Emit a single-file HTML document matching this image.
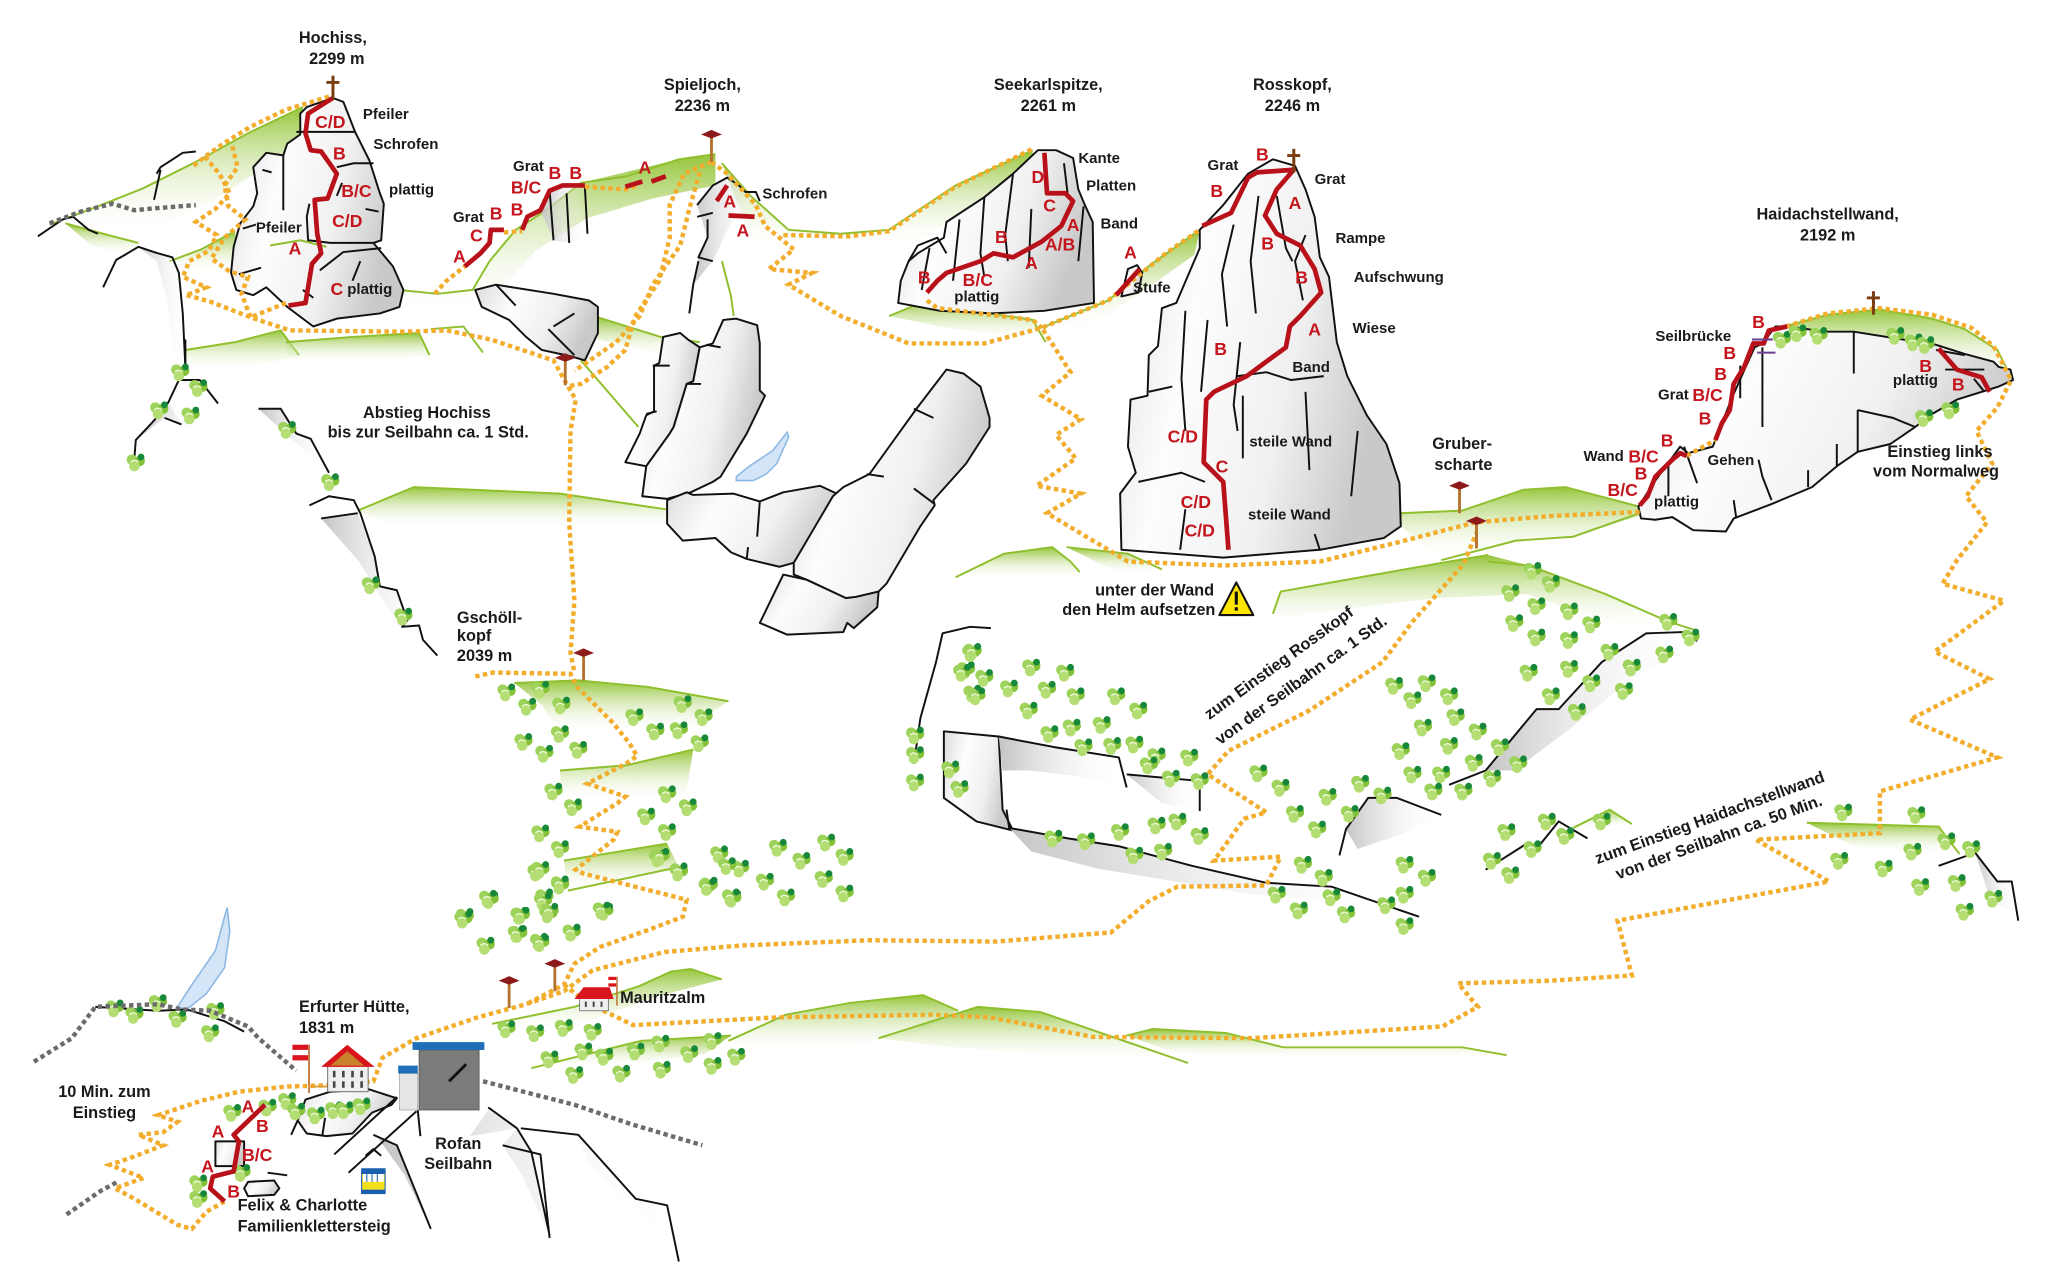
<!DOCTYPE html>
<html><head><meta charset="utf-8">
<style>
html,body{margin:0;padding:0;background:#fff;}
svg{display:block;}
text{font-family:"Liberation Sans Narrow","Liberation Sans",Arial,sans-serif;font-weight:bold;}
.n{font-size:12.5px;fill:#1a1a1a;}
.s{font-size:11.5px;fill:#1a1a1a;}
.r{font-size:13.5px;fill:#c4161c;}
.rk{fill:url(#rk);stroke:#111;stroke-width:1.5;stroke-linejoin:round;}
.ln{fill:none;stroke:#111;stroke-width:1.5;stroke-linejoin:round;}
.sh{fill:url(#sh);stroke:none;}
.md{fill:url(#md);stroke:none;}
.me{fill:none;stroke:#8fbf2c;stroke-width:1.5;}
.op{fill:none;stroke:#f2ad2c;stroke-width:3.4;stroke-dasharray:3.4 2.6;}
.gp{fill:none;stroke:#6b6b6b;stroke-width:3.4;stroke-dasharray:3.4 2.6;}
.rt{fill:none;stroke:#b8111a;stroke-width:3.6;stroke-linejoin:round;}
</style></head><body>
<svg width="2047" height="1285" viewBox="0 0 1568 984" preserveAspectRatio="none" xmlns="http://www.w3.org/2000/svg">
<defs>
<linearGradient id="rk" x1="0" y1="0" x2="1" y2="0.3">
<stop offset="0" stop-color="#dcdcdc"/><stop offset="0.35" stop-color="#fdfdfd"/><stop offset="0.7" stop-color="#f0f0f0"/><stop offset="1" stop-color="#c9c9c9"/>
</linearGradient>
<linearGradient id="sh" x1="0" y1="0" x2="1" y2="0">
<stop offset="0" stop-color="#c4c4c4"/><stop offset="1" stop-color="#ffffff" stop-opacity="0"/>
</linearGradient>
<linearGradient id="md" x1="0" y1="0" x2="0" y2="1">
<stop offset="0" stop-color="#95c53a"/><stop offset="1" stop-color="#ffffff" stop-opacity="0"/>
</linearGradient>
<g id="t"><circle cx="-3" cy="-2" r="4" fill="#9dd35a"/><circle cx="3" cy="-1" r="4" fill="#84c23a"/><circle cx="-1" cy="3" r="4" fill="#b4de74"/><circle cx="4" cy="-4" r="2.6" fill="#17883a"/><path d="M-4,0 q3,-3 6,0" stroke="#eef8dc" stroke-width="1" fill="none"/></g>
<g id="sp"><rect x="-1.1" y="0" width="2.2" height="22" fill="#b5722e"/><path d="M-8,1 L0,-2.5 L8,1 L0,4 Z" fill="#8c1a1a"/></g>
<g id="cr"><rect x="-1.1" y="0" width="2.3" height="18" fill="#7a3d12"/><rect x="-5" y="4" width="10" height="2.2" fill="#7a3d12"/></g>
</defs>

<!-- ===== MEADOWS ===== -->
<path class="md" d="M38,172 L75,158 L110,144 L150,124 L190,102 L232,82 L236,112 L200,130 L165,152 L135,168 L100,178 L60,180 Z"/>
<path class="me" d="M38,172 L75,158 L110,144 L150,124 L190,102 L232,82"/>
<path class="md" d="M50,171 L79,179 L106,186 L104,196 L70,188 Z"/><path class="me" d="M50,171 L79,179 L106,186"/>
<path class="md" d="M130,200 L154,191 L180,177 L182,206 L150,209 Z"/><path class="me" d="M130,200 L154,191 L180,177"/>
<path class="md" d="M142,268 L180,262 L215,253 L229,272 L190,282 L142,284 Z"/><path class="me" d="M142,268 L180,262 L215,253 L229,272"/>
<path class="md" d="M219,262 L270,258 L321,255 L329,272 L280,278 L222,277 Z"/><path class="me" d="M219,262 L270,258 L321,255 L329,272"/>
<path class="me" d="M330,252 L355,250 L370,270"/>
<path class="md" d="M305,222 L335,225 L362,222 L375,200 L395,176 L445,140 L520,122 L548,118 L548,142 L500,152 L450,167 L410,192 L380,226 L360,242 L320,240 Z"/>
<path class="me" d="M305,222 L335,225 L362,222 L375,200 L395,176 L420,160 L445,140 L480,135 L520,122 L548,118"/>
<path class="md" d="M458,243 L506,258 L536,262 L536,274 L500,270 L458,260 Z"/><path class="me" d="M458,243 L506,258 L536,262"/>
<path class="me" d="M445,276 L489,327"/>
<path class="md" d="M553,125 L575,150 L604,176 L644,179 L681,176 L732,142 L791,115 L791,132 L740,162 L700,186 L640,193 L600,191 L575,182 Z"/>
<path class="me" d="M553,125 L575,150 L604,176 L644,179 L681,176 L732,142 L791,115"/>
<path class="me" d="M553,200 L560,227 L562,242"/>
<path class="md" d="M681,242 L710,230 L732,236 L791,245 L801,262 L770,257 L720,250 Z"/><path class="me" d="M681,242 L710,230 L732,236 L791,245 L801,262"/>
<path class="md" d="M798,251 L849,230 L881,203 L919,176 L915,195 L880,220 L850,240 L812,256 Z"/><path class="me" d="M798,251 L849,230 L881,203 L919,176"/>
<path class="md" d="M996,244 L1015,225 L1022,262 L1000,262 Z"/>
<path class="md" d="M274,391 L317,373 L429,378 L510,390 L510,404 L300,404 Z"/><path class="me" d="M274,391 L317,373 L429,378 L510,390"/>
<path class="md" d="M732,442 L769,424 L806,419 L820,430 L827,440 L780,444 Z"/><path class="me" d="M732,442 L769,424 L806,419 L820,430 L827,438"/>
<path class="md" d="M817,419 L864,424 L890,436 L860,440 Z"/><path class="me" d="M817,419 L864,424 L890,436"/>
<path class="md" d="M975,470 L981,453 L1048,441 L1110,430 L1140,425 L1171,433 L1230,455 L1278,476 L1300,483 L1250,482 L1170,455 L1100,458 L1040,465 L990,472 Z"/>
<path class="me" d="M975,470 L981,453 L1048,441 L1110,430 L1140,425"/><path class="me" d="M1140,430 L1171,433 L1230,455 L1278,476 L1300,483"/>
<path class="md" d="M1072,393 L1120,391 L1167,375 L1199,373 L1237,383 L1256,388 L1256,395 L1205,411 L1161,414 L1104,429 L1072,402 Z"/>
<path class="me" d="M1072,393 L1120,391 L1167,375 L1199,373 L1237,383 L1256,388"/><path class="me" d="M1104,429 L1161,414 L1205,411 L1256,393"/>
<path class="md" d="M1360,252 L1400,241 L1440,237 L1480,244 L1505,252 L1530,268 L1541,290 L1525,282 L1500,270 L1480,264 L1420,256 L1360,258 Z"/>
<path class="me" d="M1360,252 L1400,241 L1440,237 L1480,244 L1505,252 L1530,268 L1541,290"/>
<path class="md" d="M1384,630 L1485,633 L1501,654 L1470,652 L1420,648 Z"/><path class="me" d="M1384,630 L1485,633 L1501,654"/>
<path class="md" d="M1205,634 L1233,620 L1250,631 Z"/><path class="me" d="M1205,634 L1233,620 L1250,631"/>
<path class="md" d="M394,523 L443,521 L496,526 L558,537 L546,545 L540,562 L490,562 L430,562 L415,540 Z"/><path class="me" d="M394,523 L443,521 L496,526 L558,537"/>
<path class="md" d="M429,590 L480,586 L531,574 L525,612 L490,614 L430,612 Z"/><path class="me" d="M429,590 L480,586 L531,574"/>
<path class="md" d="M432,659 L511,646 L520,664 L435,682 Z"/><path class="me" d="M432,659 L511,646"/><path class="me" d="M435,682 L520,664"/>
<!-- bottom strips -->
<path class="md" d="M558,797 L602,777 L651,768 L707,762 L734,774 L700,792 L640,802 L590,806 Z"/><path class="me" d="M558,797 L602,777 L651,768 L707,762 L734,774"/>
<path class="md" d="M673,795 L749,771 L797,775 L910,814 L860,813 L790,807 L720,801 Z"/><path class="me" d="M673,795 L749,771 L797,775 L910,814"/>
<path class="md" d="M863,793 L883,788 L939,791 L983,802 L1120,802 L1154,808 L1100,811 L980,811 L900,806 Z"/><path class="me" d="M863,793 L883,788 L939,791 L983,802 L1120,802 L1154,808"/>
<path class="md" d="M377,784 L440,771 L490,755 L514,744 L529,742 L553,750 L500,764 L450,782 L400,792 Z"/><path class="me" d="M377,784 L440,771 L490,755 L514,744 L529,742 L553,750"/>
<path class="md" d="M407,818 L491,797 L560,793 L540,807 L460,817 Z"/><path class="me" d="M407,818 L491,797 L560,793"/>

<!-- ===== LAKES ===== -->
<path d="M564,365 L574,357 L592,345 L603,331 L604,335 L595,355 L587,363 L577,368 L564,368 Z" fill="#d3e5f7" stroke="#8cb8e4" stroke-width="1.2"/>
<path d="M136,771 L147,754 L165,728 L172,702 L174,695 L176,713 L172,741 L158,761 L143,773 Z" fill="#d3e5f7" stroke="#8cb8e4" stroke-width="1.2"/>

<!-- ===== ROCKS ===== -->
<!-- Hochiss -->
<path class="rk" d="M230,87 L235,82 L255,75 L263,78 L272,101 L283,123 L291,148 L294,156 L292,184 L286,186 L301,204 L309,222 L306,235 L291,240 L258,244 L240,250 L220,235 L204,220 L194,226 L181,222 L177,209 L179,189 L184,171 L194,158 L197,148 L194,128 L204,117 L217,119 L220,110 L230,103 Z"/>
<path class="ln" d="M227,101 L272,101 M258,128 L271,125 L286,125 M237,156 L235,166 L236,184 L253,186 L286,186 M245,207 L263,193 L292,190 M217,119 L217,161 M201,130 L208,132 M186,175 L196,172 M183,210 L200,205 M232,222 L240,228 M262,140 L258,150 M276,200 L270,215 M280,160 L290,162"/>
<path class="me" d="M207,188 L230,184 L250,189"/>
<path class="ln" d="M120,133 L123,128 L140,117 L150,116 M123,130 L118,153 M29,181 L48,168 L56,166 L68,176 L75,179"/>
<path class="sh" d="M106,189 L121,194 L132,197 L137,209 L140,240 L142,281 L133,270 L128,230 L120,200 Z"/>
<path class="ln" d="M79,220 L89,199 L96,195 L106,189 L118,193 L121,194 L132,197 L137,209 L140,240 L142,281"/>
<path class="sh" d="M137,291 L153,291 L167,309 L150,300 Z M129,308 L118,322 L104,337 L126,320 L139,325 Z"/>
<path class="ln" d="M142,260 L142,280 M137,291 L153,291 L167,309 M137,291 L129,308 L118,322 L104,337 L103,350 M126,320 L139,325"/>
<path class="sh" d="M198,313 L215,313 L227,332 L238,336 L252,362 L240,350 L222,335 Z"/>
<path class="ln" d="M198,313 L215,313 L227,332 L238,336 L252,362"/>
<path class="sh" d="M246,397 L274,393 L287,426 L291,449 L304,452 L312,475 L321,479 L324,490 L335,502 L300,470 L275,430 Z"/>
<path class="ln" d="M237,387 L252,380 L271,383 L276,393 L287,426 L291,449 L304,452 L312,475 L308,480 L321,479 L324,490 L335,502 M246,397 L274,393"/>
<!-- lower rock below Spieljoch -->
<path class="rk" d="M364,222 L380,218 L424,225 L451,230 L458,235 L458,255 L448,276 L438,273 L415,268 L403,258 L390,245 L369,235 Z"/>
<path class="ln" d="M380,218 L395,234 M420,252 L440,272 M424,250 L440,240"/>
<!-- Spieljoch ridge pillars -->
<path class="sh" d="M414,161 L421,146 L431,142 L448,142 L450,179 L436,186 L424,184 Z"/>
<path class="ln" d="M421,146 L424,184 M434,148 L436,186 M448,143 L450,179 M400,176 L404,166 L414,161"/>
<!-- Spieljoch rock -->
<path class="sh" d="M534,157 L546,142 L557,136 L566,142 L571,147 L579,147 L582,154 L560,170 L546,200 L531,218 L535,197 L542,182 Z"/>
<path class="ln" d="M534,157 L546,142 L557,136 L566,142 L571,147 L579,147 L582,154 M534,166 L546,163 M542,168 L542,182 L535,197 L546,200 M535,200 L531,218 L528,240"/>
<!-- central cluster -->
<path class="rk" d="M479,354 L490,332 L495,318 L501,315 L501,280 L505,278 L508,258 L521,255 L527,260 L536,266 L531,292 L526,294 L516,327 L513,332 L495,357 Z"/>
<path class="rk" d="M536,266 L546,263 L554,245 L564,244 L580,249 L582,263 L582,299 L586,303 L572,332 L552,365 L546,369 L529,377 L511,382 L492,380 L495,357 L513,332 L516,327 L526,294 L531,292 Z"/>
<path class="rk" d="M511,383 L526,377 L531,379 L562,378 L582,384 L600,377 L628,372 L641,378 L608,431 L597,434 L572,428 L560,423 L548,412 L523,414 L511,401 Z"/>
<path class="ln" d="M582,384 L580,411 M573,419 L572,428 M500,280 L513,280 M495,317 L503,315 M541,264 L552,266 M526,294 L537,294"/>
<path class="rk" d="M725,283 L738,286 L751,296 L758,320 L758,327 L740,355 L715,383 L716,387 L705,403 L679,447 L673,453 L656,457 L648,458 L618,444 L608,440 L608,431 L638,380 L646,373 L666,363 L702,313 Z"/>
<path class="ln" d="M700,313 L715,320 M664,363 L677,365 M700,374 L716,386"/>
<path class="rk" d="M600,440 L618,444 L648,458 L656,457 L673,453 L672,465 L654,481 L649,477 L646,484 L603,486 L582,477 Z"/>
<!-- Seekarlspitze -->
<path class="rk" d="M795,115 L809,115 L822,121 L826,145 L831,157 L837,170 L838,232 L800,238 L760,240 L720,238 L688,232 L690,215 L696,200 L703,194 L718,185 L723,182 L725,170 L754,151 L776,133 Z"/>
<path class="ln" d="M754,151 L751,194 L754,212 M776,133 L770,180 L772,200 M815,125 L818,150 M735,168 L730,215 M712,190 L706,222 M696,200 L703,188 L718,182 L725,194 M790,160 L788,205 M830,158 L826,200"/>
<path class="rk" d="M859,227 L864,206 L871,203 L875,209 L872,224 Z"/>
<!-- Rosskopf -->
<path class="rk" d="M956,133 L975,122 L992,127 L1000,145 L1007,166 L1011,197 L1018,212 L1024,262 L1032,288 L1047,318 L1062,340 L1072,370 L1073,403 L1060,412 L1011,421 L937,427 L859,421 L858,378 L870,362 L864,342 L866,306 L879,303 L880,272 L887,265 L890,236 L901,232 L919,190 L919,176 L937,157 Z"/>
<path class="ln" d="M964,150 L958,200 L962,240 M945,172 L936,210 L940,250 M978,150 L985,190 L990,200 M1000,180 L992,200 L998,230 M908,238 L905,290 L908,330 M925,245 L920,300 M950,262 L945,310 L948,330 M948,288 L970,285 L989,291 L1014,288 M952,303 L952,351 M872,369 L905,362 L923,369 M904,421 L908,390 M1011,421 L1007,409 M1000,300 L1003,360 M1040,330 L1035,380 M880,300 L898,296"/>
<!-- Haidachstellwand -->
<path class="rk" d="M1255,388 L1257,397 L1268,398 L1281,396 L1297,406 L1322,407 L1328,397 L1357,386 L1388,373 L1407,357 L1423,346 L1448,340 L1467,327 L1480,317 L1499,306 L1515,301 L1531,296 L1542,291 L1540,283 L1531,281 L1527,277 L1505,271 L1483,264 L1420,254 L1398,254 L1370,250 L1360,250 L1350,263 L1344,266 L1335,286 L1327,304 L1319,324 L1312,342 L1293,347 L1287,342 L1268,368 Z"/>
<path class="ln" d="M1420,254 L1420,286 M1350,266 L1350,327 M1333,280 L1333,305 M1423,314 L1423,346 M1423,314 L1450,320 L1467,327 M1407,340 L1407,357 M1385,360 L1385,373 M1347,352 L1350,365 L1357,383 M1328,383 L1330,397 M1278,355 L1278,380 M1290,342 L1300,370 M1483,268 L1505,272 M1490,283 L1520,283 M1512,290 L1520,300"/>
<!-- right middle rocks -->
<path class="ln" d="M700,585 L705,550 L717,507 L722,485 L743,480 L759,481"/>
<path class="rk" d="M723,560 L765,564 L768,620 L776,636 L748,629 L723,611 Z"/>
<path class="sh" d="M765,564 L807,572 L857,580 L863,603 L830,595 L790,590 L768,590 Z"/>
<path class="ln" d="M765,564 L807,572 L857,580 L863,603"/>
<path class="sh" d="M863,593 L919,598 L919,621 L890,615 Z"/>
<path class="ln" d="M863,593 L919,598 L919,621"/>
<path class="sh" d="M773,634 L818,642 L857,648 L913,663 L970,676 L1020,679 L1087,702 L1020,690 L960,685 L900,675 L840,665 L790,652 Z"/>
<path class="ln" d="M771,620 L773,634 L818,642 L857,648 L913,663 L970,676 L1020,679 L1087,702"/>
<path class="sh" d="M1031,635 L1048,611 L1070,611 L1104,624 L1070,640 L1040,650 Z"/>
<path class="ln" d="M1026,655 L1031,635 L1048,611 L1070,611 L1104,624"/>
<path class="sh" d="M1138,590 L1177,543 L1194,543 L1227,507 L1261,485 L1289,484 L1300,491 L1250,520 L1200,560 L1160,590 Z"/>
<path class="ln" d="M1110,601 L1138,590 L1177,543 L1194,543 L1227,507 L1261,485 L1289,484 L1300,491"/>
<path class="ln" d="M1138,666 L1171,645 L1177,650 L1194,629 L1216,642"/>
<path class="sh" d="M1513,653 L1530,675 L1541,675 L1546,700 L1525,690 Z"/>
<path class="ln" d="M1485,663 L1513,653 L1530,675 L1541,675 L1546,705"/>
<!-- lower-left ridge -->
<path class="ln" d="M73,771 L121,774 L143,773 L172,782 L187,790"/>
<!-- Hut base and Felix rocks -->
<path class="rk" d="M234,842 L253,836 L282,834 L304,841 L300,846 L285,852 L270,868 L250,870 L235,868 L228,858 Z"/>
<path class="ln" d="M249,856 L247,869 M228,858 L223,869"/>
<path class="rk" d="M165,874 L187,874 L187,893 L165,893 Z"/>
<path class="rk" d="M190,905 L210,904 L214,910 L210,915 L190,916 L187,910 Z"/>
<path class="ln" d="M205,898 L220,900"/>
<!-- Station rocks -->
<path class="sh" d="M304,877 L330,941 L310,900 L290,872 Z M396,864 L407,882 L421,946 L400,900 L385,877 Z M443,869 L487,918 L511,923 L520,966 L490,930 L450,890 Z M374,850 L396,864 L360,870 Z"/>
<path class="ln" d="M304,840 L256,884 M319,851 L267,898 M286,869 L304,877 L330,941 M374,848 L396,864 L407,882 L421,946 M399,864 L443,869 L487,918 L511,923 L520,966 M385,877 L414,884 L421,948 M320,850 L322,870"/>
<path class="ln" d="M280,885 L286,880 L292,885"/>

<!-- ===== TREES ===== -->
<g>
<use href="#t" x="138" y="285"/><use href="#t" x="152" y="297"/><use href="#t" x="122" y="314"/><use href="#t" x="146" y="318"/><use href="#t" x="104" y="354"/><use href="#t" x="220" y="329"/><use href="#t" x="253" y="369"/><use href="#t" x="284" y="448"/><use href="#t" x="309" y="472"/>
<use href="#t" x="388" y="530"/><use href="#t" x="414" y="528"/><use href="#t" x="404" y="541"/><use href="#t" x="430" y="540"/><use href="#t" x="401" y="568"/><use href="#t" x="429" y="562"/><use href="#t" x="443" y="574"/><use href="#t" x="417" y="577"/><use href="#t" x="486" y="549"/><use href="#t" x="502" y="560"/><use href="#t" x="520" y="559"/><use href="#t" x="539" y="549"/><use href="#t" x="523" y="539"/><use href="#t" x="536" y="569"/><use href="#t" x="424" y="606"/><use href="#t" x="439" y="618"/><use href="#t" x="511" y="608"/><use href="#t" x="527" y="618"/><use href="#t" x="495" y="625"/><use href="#t" x="511" y="637"/><use href="#t" x="414" y="638"/><use href="#t" x="429" y="650"/><use href="#t" x="411" y="668"/><use href="#t" x="429" y="678"/><use href="#t" x="417" y="687"/><use href="#t" x="504" y="657"/><use href="#t" x="520" y="668"/><use href="#t" x="375" y="689"/><use href="#t" x="356" y="702"/><use href="#t" x="398" y="701"/><use href="#t" x="420" y="700"/><use href="#t" x="463" y="698"/><use href="#t" x="397" y="715"/><use href="#t" x="438" y="714"/><use href="#t" x="372" y="724"/><use href="#t" x="413" y="721"/><use href="#t" x="551" y="654"/><use href="#t" x="567" y="665"/><use href="#t" x="543" y="678"/><use href="#t" x="561" y="688"/><use href="#t" x="596" y="649"/><use href="#t" x="614" y="659"/><use href="#t" x="633" y="645"/><use href="#t" x="647" y="656"/><use href="#t" x="586" y="675"/><use href="#t" x="602" y="687"/><use href="#t" x="631" y="673"/><use href="#t" x="647" y="684"/><use href="#t" x="701" y="563"/><use href="#t" x="701" y="578"/><use href="#t" x="701" y="599"/><use href="#t" x="728" y="589"/><use href="#t" x="735" y="604"/><use href="#t" x="740" y="513"/><use href="#t" x="744" y="500"/><use href="#t" x="745" y="531"/>
<use href="#t" x="745" y="499"/><use href="#t" x="737" y="515"/><use href="#t" x="754" y="519"/><use href="#t" x="748" y="533"/><use href="#t" x="790" y="511"/><use href="#t" x="816" y="515"/><use href="#t" x="773" y="527"/><use href="#t" x="802" y="528"/><use href="#t" x="824" y="533"/><use href="#t" x="855" y="533"/><use href="#t" x="788" y="544"/><use href="#t" x="872" y="544"/><use href="#t" x="804" y="562"/><use href="#t" x="821" y="557"/><use href="#t" x="844" y="555"/><use href="#t" x="830" y="572"/><use href="#t" x="852" y="571"/><use href="#t" x="869" y="570"/><use href="#t" x="886" y="579"/><use href="#t" x="880" y="586"/><use href="#t" x="911" y="580"/><use href="#t" x="897" y="596"/><use href="#t" x="919" y="598"/><use href="#t" x="964" y="592"/><use href="#t" x="981" y="603"/><use href="#t" x="1017" y="610"/><use href="#t" x="1042" y="600"/><use href="#t" x="1059" y="609"/><use href="#t" x="1034" y="623"/><use href="#t" x="992" y="623"/><use href="#t" x="1009" y="635"/><use href="#t" x="886" y="632"/><use href="#t" x="902" y="629"/><use href="#t" x="919" y="640"/><use href="#t" x="858" y="637"/><use href="#t" x="869" y="655"/><use href="#t" x="891" y="652"/><use href="#t" x="807" y="642"/><use href="#t" x="832" y="644"/><use href="#t" x="998" y="662"/><use href="#t" x="1014" y="672"/><use href="#t" x="978" y="685"/><use href="#t" x="995" y="697"/><use href="#t" x="1020" y="687"/><use href="#t" x="1031" y="700"/><use href="#t" x="1062" y="693"/><use href="#t" x="1076" y="685"/><use href="#t" x="1076" y="662"/><use href="#t" x="1093" y="672"/><use href="#t" x="1076" y="709"/>
<use href="#t" x="1068" y="525"/><use href="#t" x="1093" y="523"/><use href="#t" x="1082" y="536"/><use href="#t" x="1110" y="533"/><use href="#t" x="1090" y="557"/><use href="#t" x="1115" y="549"/><use href="#t" x="1073" y="575"/><use href="#t" x="1110" y="571"/><use href="#t" x="1132" y="560"/><use href="#t" x="1149" y="572"/><use href="#t" x="1082" y="593"/><use href="#t" x="1104" y="593"/><use href="#t" x="1129" y="584"/><use href="#t" x="1143" y="596"/><use href="#t" x="1163" y="585"/><use href="#t" x="1098" y="606"/><use href="#t" x="1121" y="606"/>
<use href="#t" x="1174" y="437"/><use href="#t" x="1188" y="447"/><use href="#t" x="1157" y="454"/><use href="#t" x="1177" y="464"/><use href="#t" x="1202" y="468"/><use href="#t" x="1160" y="477"/><use href="#t" x="1177" y="488"/><use href="#t" x="1202" y="490"/><use href="#t" x="1219" y="478"/><use href="#t" x="1171" y="515"/><use href="#t" x="1202" y="512"/><use href="#t" x="1233" y="499"/><use href="#t" x="1250" y="511"/><use href="#t" x="1275" y="501"/><use href="#t" x="1244" y="529"/><use href="#t" x="1219" y="523"/><use href="#t" x="1188" y="533"/><use href="#t" x="1208" y="545"/><use href="#t" x="1278" y="476"/><use href="#t" x="1295" y="488"/>
<use href="#t" x="1154" y="637"/><use href="#t" x="1185" y="629"/><use href="#t" x="1174" y="650"/><use href="#t" x="1199" y="640"/><use href="#t" x="1227" y="629"/><use href="#t" x="1143" y="659"/><use href="#t" x="1157" y="670"/><use href="#t" x="1412" y="622"/><use href="#t" x="1468" y="624"/><use href="#t" x="1409" y="659"/><use href="#t" x="1443" y="665"/><use href="#t" x="1465" y="652"/><use href="#t" x="1491" y="644"/><use href="#t" x="1510" y="650"/><use href="#t" x="1471" y="679"/><use href="#t" x="1499" y="676"/><use href="#t" x="1527" y="688"/><use href="#t" x="1505" y="698"/>
<use href="#t" x="1365" y="260"/><use href="#t" x="1377" y="255"/><use href="#t" x="1393" y="257"/><use href="#t" x="1452" y="257"/><use href="#t" x="1466" y="262"/><use href="#t" x="1475" y="264"/><use href="#t" x="1474" y="320"/><use href="#t" x="1494" y="314"/>
<use href="#t" x="88" y="772"/><use href="#t" x="103" y="777"/><use href="#t" x="121" y="768"/><use href="#t" x="136" y="780"/><use href="#t" x="165" y="774"/><use href="#t" x="161" y="791"/><use href="#t" x="152" y="906"/><use href="#t" x="152" y="918"/><use href="#t" x="185" y="898"/><use href="#t" x="178" y="852"/><use href="#t" x="205" y="848"/><use href="#t" x="220" y="843"/><use href="#t" x="227" y="851"/><use href="#t" x="242" y="854"/><use href="#t" x="256" y="850"/><use href="#t" x="264" y="850"/><use href="#t" x="277" y="847"/>
<use href="#t" x="414" y="666"/><use href="#t" x="429" y="677"/><use href="#t" x="416" y="690"/><use href="#t" x="461" y="697"/><use href="#t" x="355" y="704"/><use href="#t" x="374" y="688"/><use href="#t" x="399" y="701"/><use href="#t" x="421" y="698"/><use href="#t" x="372" y="724"/><use href="#t" x="396" y="715"/><use href="#t" x="414" y="722"/><use href="#t" x="438" y="714"/><use href="#t" x="388" y="788"/><use href="#t" x="410" y="791"/><use href="#t" x="432" y="787"/><use href="#t" x="454" y="790"/><use href="#t" x="421" y="811"/><use href="#t" x="447" y="805"/><use href="#t" x="463" y="809"/><use href="#t" x="487" y="805"/><use href="#t" x="506" y="799"/><use href="#t" x="528" y="807"/><use href="#t" x="546" y="797"/><use href="#t" x="440" y="823"/><use href="#t" x="476" y="822"/><use href="#t" x="507" y="819"/><use href="#t" x="546" y="816"/><use href="#t" x="564" y="809"/><use href="#t" x="542" y="679"/><use href="#t" x="560" y="687"/><use href="#t" x="557" y="663"/><use href="#t" x="520" y="667"/><use href="#t" x="506" y="656"/>
</g>

<!-- ===== GREY DOTTED ===== -->
<path class="gp" d="M38,171 L62,162 L86,156 L103,161 L113,160 L150,157"/>
<path class="gp" d="M26,813 L55,795 L73,771 L95,770 L121,769 L139,773 L161,774 L190,786 L198,795 L212,807 L227,820"/>
<path class="gp" d="M51,930 L77,912 L90,905"/>
<path class="gp" d="M370,828 L440,846 L484,861 L538,877"/>

<!-- ===== ORANGE PATHS ===== -->
<path class="op" d="M252,74 L219,84 L192,97 L171,110 L157,120 L147,128"/>
<path class="op" d="M157,120 L168,133 L176,148 L165,160 L150,170 L166,180 L160,192 L145,200 L140,212 L158,220 L143,226"/>
<path class="op" d="M178,112 L182,128 L172,142 L175,158 L188,168 L172,182 L162,198 L176,208 L190,212 L185,225 L192,243"/>
<path class="op" d="M219,232 L192,243"/>
<path class="op" d="M143,226 L161,231 L192,243 L222,253 L308,254 L342,253 L376,260 L424,276 L434,294 L441,306 L437,330 L436,400 L440,460 L437,500 L440,515"/>
<path class="op" d="M364,518 L378,515 L437,516 L442,526 L455,539 L470,554 L482,569 L488,579 L479,585 L450,600 L479,610 L473,615 L444,633 L473,637 L470,643 L441,666 L447,669 L526,689 L523,702 L497,712 L460,725 L440,738 L432,754 L403,769"/>
<path class="op" d="M172,920 L158,928 L147,941 L136,938 L103,918 L88,910 L110,902 L84,892 L99,887 L125,877 L106,869 L125,867 L136,859 L121,854 L154,843 L183,836 L220,832 L256,831 L286,828 L293,810 L319,795 L366,779 L403,769 L432,759 L454,743 L509,729 L568,724 L666,720 L763,721 L851,714 L880,690 L902,679 L970,678 L981,656 L930,659 L953,627 L970,622 L925,593 L941,575 L1003,544 L1059,507 L1082,476 L1121,432 L1131,408"/>
<path class="op" d="M432,754 L450,768 L485,785 L597,779 L714,777 L758,779 L837,794 L959,795 L1105,786 L1132,771 L1117,753 L1187,751 L1250,747 L1239,705 L1401,675 L1345,643 L1440,638 L1440,606 L1530,580 L1463,551 L1524,520 L1482,499 L1535,460 L1488,447 L1499,429 L1522,400 L1506,380 L1526,355 L1514,330 L1530,312 L1540,292"/>
<path class="op" d="M1368,250 L1400,240 L1440,236 L1480,241 L1510,251 L1527,265 L1540,290"/>
<path class="op" d="M1256,392 L1190,395 L1130,400 L1072,415 L1011,430 L937,433 L864,430 L802,393 L828,378 L794,372 L824,351 L809,333 L828,321 L798,303 L820,285 L798,251"/>
<path class="op" d="M545,124 L557,133 L579,157 L586,173 L608,191 L589,206 L622,209 L604,218 L644,242 L696,263 L754,263 L798,251 L849,230 L893,194 L919,176"/>
<path class="op" d="M710,230 L718,236 L791,245 L798,251"/>
<path class="op" d="M600,180 L650,181 L681,177 L732,143 L791,114"/>
<path class="op" d="M545,124 L524,133 L513,157 L513,182 L505,215 L486,243 L479,268 L465,281 L445,294 L434,296"/>
<path class="op" d="M536,132 L528,160 L521,188 L500,218 L490,242 L472,262 L440,284"/>
<path class="op" d="M448,143 L479,145 L489,142"/>
<path class="op" d="M386,178 L400,177"/>
<path class="op" d="M333,225 L342,215 L356,204"/>
<path class="op" d="M1292,349 L1314,337"/>

<!-- ===== RED ROUTES ===== -->
<path class="rt" d="M255,75 L236,87 L234,102 L238,115 L246,116 L258,133 L251,152 L241,153 L243,179 L246,194 L239,202 L234,232 L221,234"/>
<path class="rt" d="M356,204 L368,194 L375,186 L376,176 L386,176"/>
<path class="rt" d="M400,176 L404,166 L414,161 L421,146 L431,142 L448,142"/>
<path class="rt" d="M479,143 L492,139 M499,139 L510,135"/>
<path class="rt" d="M557,142 L549,154 M558,165 L578,166"/>
<path class="rt" d="M800,117 L802,148 L816,148 L822,154 L813,173 L798,185 L776,197 L761,194 L751,200 L725,209 L718,215 L710,224"/>
<path class="rt" d="M855,226 L873,206"/>
<path class="rt" d="M921,173 L943,163 L956,136 L963,132 L991,130 L978,145 L969,165 L978,179 L996,188 L1007,206 L1012,224 L996,242 L988,250 L985,266 L974,274 L955,288 L930,300 L924,306 L922,354 L937,369 L941,421"/>
<path class="rt" d="M1256,387 L1262,380 L1268,365 L1281,352 L1287,347 L1292,349"/>
<path class="rt" d="M1314,337 L1319,324 L1325,314 L1328,294 L1336,281 L1343,263 L1351,263 L1355,253 L1369,250"/>
<path class="rt" d="M1485,267 L1499,283 L1518,289 L1524,300"/>
<path class="rt" d="M203,846 L179,869 L183,874 L179,897 L163,901 L161,910 L172,920"/>
<path d="M1342,260 L1358,260 M1346,270 L1360,270" stroke="#6a3d8f" stroke-width="1.5"/>

<!-- ===== ICONS ===== -->
<use href="#cr" x="255" y="58"/>
<use href="#cr" x="991" y="114"/>
<use href="#cr" x="1435" y="223"/>
<use href="#sp" x="545" y="102"/>
<use href="#sp" x="433" y="273"/>
<use href="#sp" x="447" y="499"/>
<use href="#sp" x="1118" y="371"/>
<use href="#sp" x="1131" y="398"/>
<use href="#sp" x="390" y="750"/>
<use href="#sp" x="425" y="737"/>
<!-- warning -->
<path d="M947,446 L960,471 L934,471 Z" fill="#ffe500" stroke="#111" stroke-width="1.6" stroke-linejoin="round"/>
<rect x="945.8" y="453" width="2.4" height="10" fill="#111"/><rect x="945.8" y="465" width="2.4" height="2.6" fill="#111"/>
<!-- Erfurter Huette -->
<rect x="251" y="815" width="31" height="21" fill="#efefef" stroke="#666" stroke-width="0.7"/>
<path d="M246,817 L266,800 L287,817 Z" fill="#d8141c"/>
<path d="M253,816 L266,805 L279,816 Z" fill="#c9812c"/>
<g fill="#444"><rect x="255" y="820" width="2" height="5"/><rect x="262" y="820" width="2" height="5"/><rect x="269" y="820" width="2" height="5"/><rect x="276" y="820" width="2" height="5"/><rect x="255" y="828" width="2" height="5"/><rect x="262" y="828" width="2" height="5"/><rect x="269" y="828" width="2" height="5"/><rect x="276" y="828" width="2" height="5"/></g>
<rect x="236" y="800" width="1.4" height="37" fill="#c0763a"/>
<rect x="224" y="800" width="12" height="4" fill="#d8141c"/><rect x="224" y="804" width="12" height="4" fill="#fff"/><rect x="224" y="808" width="12" height="4" fill="#d8141c"/>
<path d="M236,832 L250,832" stroke="#e0a040" stroke-width="1.5"/>
<!-- Mauritzalm -->
<rect x="444" y="764" width="22" height="10" fill="#efefef" stroke="#666" stroke-width="0.6"/>
<path d="M440,765 L447,756 L467,756 L470,765 Z" fill="#d8141c"/>
<g fill="#444"><rect x="448" y="767" width="1.5" height="4"/><rect x="454" y="767" width="1.5" height="4"/><rect x="460" y="767" width="1.5" height="4"/></g>
<rect x="472" y="748" width="1.2" height="22" fill="#c0763a"/>
<rect x="466" y="748" width="6" height="2.5" fill="#d8141c"/><rect x="466" y="750.5" width="6" height="2.5" fill="#fff"/><rect x="466" y="753" width="6" height="2.5" fill="#d8141c"/>
<!-- Station -->
<rect x="306" y="822" width="14" height="28" fill="#e6e6e6" stroke="#999" stroke-width="0.5"/>
<rect x="305" y="816" width="15" height="6" fill="#1e6fb8"/>
<rect x="321" y="804" width="46" height="46" fill="#7b7b7b" stroke="#555" stroke-width="0.6"/>
<rect x="316" y="798" width="55" height="6" fill="#1e6fb8"/>
<path d="M344,828 L357,815" stroke="#111" stroke-width="2.2"/>
<!-- Gondola -->
<rect x="277" y="895" width="18" height="19" fill="#f3e01b" stroke="#1a5fb0" stroke-width="0.8"/>
<rect x="277" y="895" width="18" height="4" fill="#1a5fb0"/>
<rect x="278" y="899" width="16" height="6" fill="#fff"/>
<path d="M281,899 L281,905 M285,899 L285,905 M289,899 L289,905" stroke="#1a5fb0" stroke-width="0.8"/>
<rect x="277" y="911" width="18" height="3" fill="#1a5fb0"/>

<!-- ===== TEXT ===== -->
<g class="n" text-anchor="middle">
<text x="255" y="33" class="n">Hochiss,</text><text x="258" y="49" class="n">2299 m</text>
<text x="538" y="69" class="n">Spieljoch,</text><text x="538" y="85" class="n">2236 m</text>
<text x="803" y="69" class="n">Seekarlspitze,</text><text x="803" y="85" class="n">2261 m</text>
<text x="990" y="69" class="n">Rosskopf,</text><text x="990" y="85" class="n">2246 m</text>
<text x="1400" y="168" class="n">Haidachstellwand,</text><text x="1400" y="184" class="n">2192 m</text>
<text x="327" y="320" class="n">Abstieg Hochiss</text><text x="328" y="335" class="n">bis zur Seilbahn ca. 1 Std.</text>
<text x="1120" y="344" class="n">Gruber-</text><text x="1121" y="360" class="n">scharte</text>
<text x="80" y="840" class="n">10 Min. zum</text><text x="80" y="856" class="n">Einstieg</text>
<text x="351" y="880" class="n">Rofan</text><text x="351" y="895" class="n">Seilbahn</text>
<text x="1486" y="350" class="n">Einstieg links</text><text x="1483" y="365" class="n">vom Normalweg</text>
</g>
<g text-anchor="end">
<text x="930" y="456" class="n">unter der Wand</text><text x="931" y="471" class="n">den Helm aufsetzen</text>
</g>
<g text-anchor="start">
<text x="350" y="477" class="n">Gschöll-</text><text x="350" y="491" class="n">kopf</text><text x="350" y="506" class="n">2039 m</text>
<text x="229" y="775" class="n">Erfurter Hütte,</text><text x="229" y="791" class="n">1831 m</text>
<text x="475" y="768" class="n">Mauritzalm</text>
<text x="182" y="927" class="n">Felix &amp; Charlotte</text><text x="182" y="943" class="n">Familienklettersteig</text>
</g>
<g text-anchor="middle">
<text class="n" transform="translate(982,511) rotate(-36)">zum Einstieg Rosskopf</text>
<text class="n" transform="translate(999,524) rotate(-36)">von der Seilbahn ca. 1 Std.</text>
<text class="n" transform="translate(1311,630) rotate(-20)">zum Einstieg Haidachstellwand</text>
<text class="n" transform="translate(1318,645) rotate(-20)">von der Seilbahn ca. 50 Min.</text>
</g>
<g class="s" text-anchor="start">
<text x="278" y="91" class="s">Pfeiler</text><text x="286" y="114" class="s">Schrofen</text><text x="298" y="149" class="s">plattig</text><text x="196" y="178" class="s">Pfeiler</text><text x="266" y="225" class="s">plattig</text>
<text x="393" y="131" class="s">Grat</text><text x="347" y="170" class="s">Grat</text><text x="584" y="152" class="s">Schrofen</text>
<text x="826" y="125" class="s">Kante</text><text x="832" y="146" class="s">Platten</text><text x="843" y="175" class="s">Band</text><text x="868" y="224" class="s">Stufe</text><text x="731" y="231" class="s">plattig</text>
<text x="925" y="130" class="s">Grat</text><text x="1007" y="141" class="s">Grat</text><text x="1023" y="186" class="s">Rampe</text><text x="1037" y="216" class="s">Aufschwung</text><text x="1036" y="255" class="s">Wiese</text><text x="990" y="285" class="s">Band</text><text x="957" y="342" class="s">steile Wand</text><text x="956" y="398" class="s">steile Wand</text>
<text x="1268" y="261" class="s">Seilbrücke</text><text x="1270" y="306" class="s">Grat</text><text x="1213" y="353" class="s">Wand</text><text x="1308" y="356" class="s">Gehen</text><text x="1267" y="388" class="s">plattig</text><text x="1450" y="295" class="s">plattig</text>
</g>
<g class="r" text-anchor="middle">
<text x="253" y="98" class="r">C/D</text><text x="260" y="122" class="r">B</text><text x="273" y="151" class="r">B/C</text><text x="266" y="174" class="r">C/D</text><text x="226" y="195" class="r">A</text><text x="258" y="226" class="r">C</text>
<text x="425" y="137" class="r">B</text><text x="441" y="137" class="r">B</text><text x="403" y="148" class="r">B/C</text><text x="380" y="168" class="r">B</text><text x="396" y="165" class="r">B</text><text x="365" y="185" class="r">C</text><text x="352" y="201" class="r">A</text><text x="494" y="133" class="r">A</text>
<text x="559" y="159" class="r">A</text><text x="569" y="181" class="r">A</text>
<text x="795" y="140" class="r">D</text><text x="804" y="162" class="r">C</text><text x="822" y="177" class="r">A</text><text x="812" y="192" class="r">A/B</text><text x="767" y="186" class="r">B</text><text x="790" y="206" class="r">A</text><text x="708" y="217" class="r">B</text><text x="749" y="219" class="r">B/C</text><text x="866" y="198" class="r">A</text>
<text x="967" y="123" class="r">B</text><text x="932" y="151" class="r">B</text><text x="992" y="160" class="r">A</text><text x="971" y="191" class="r">B</text><text x="997" y="217" class="r">B</text><text x="1007" y="257" class="r">A</text><text x="935" y="272" class="r">B</text><text x="906" y="339" class="r">C/D</text><text x="936" y="362" class="r">C</text><text x="916" y="389" class="r">C/D</text><text x="919" y="411" class="r">C/D</text>
<text x="1347" y="251" class="r">B</text><text x="1325" y="275" class="r">B</text><text x="1318" y="291" class="r">B</text><text x="1308" y="307" class="r">B/C</text><text x="1306" y="325" class="r">B</text><text x="1277" y="342" class="r">B</text><text x="1259" y="354" class="r">B/C</text><text x="1257" y="367" class="r">B</text><text x="1243" y="380" class="r">B/C</text><text x="1475" y="285" class="r">B</text><text x="1500" y="299" class="r">B</text>
<text x="190" y="852" class="r">A</text><text x="201" y="867" class="r">B</text><text x="167" y="871" class="r">A</text><text x="197" y="889" class="r">B/C</text><text x="159" y="898" class="r">A</text><text x="179" y="917" class="r">B</text>
</g>
</svg>
</body></html>
